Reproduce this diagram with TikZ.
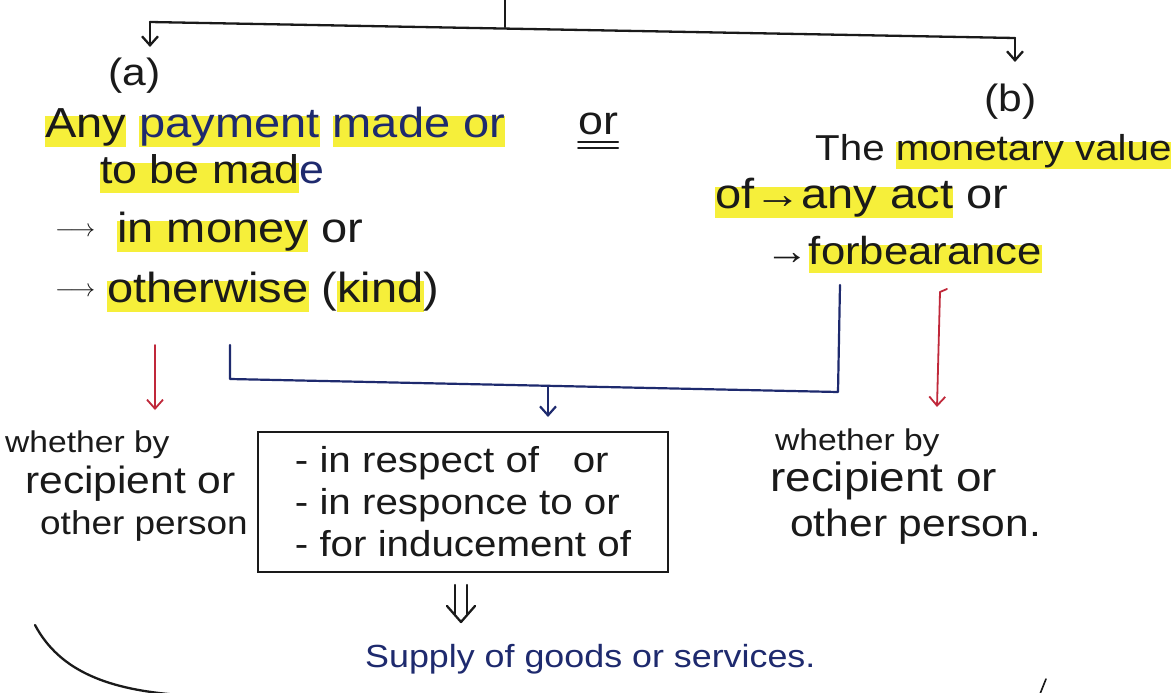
\documentclass[tikz,border=0pt]{standalone}
\usepackage{fontspec}
\setmainfont{Liberation Sans}[FakeStretch=1.12]
\usetikzlibrary{arrows.meta}
\definecolor{hl}{HTML}{F6EF3A}
\definecolor{ink}{HTML}{1A1A1A}
\definecolor{navy}{HTML}{1E2A6E}
\definecolor{redink}{HTML}{C0283A}
\newcommand\hl[1]{\setbox0\hbox{#1}\rlap{\textcolor{hl}{\rule[-0.24em]{\wd0}{0.74em}}}\box0\relax}
\newcommand\fs[1]{\fontsize{#1}{#1}\selectfont}
\newcommand\harrow{\raisebox{6pt}{\fs{34}$\longrightarrow$}}
\tikzset{
  txt/.style={anchor=base west, inner sep=0pt, text=ink, font=\fs{42}},
  wtxt/.style={anchor=base west, inner sep=0pt, text=ink, font=\fs{36}},
  blk/.style={draw=ink, line width=2.3pt, line cap=round},
  bln/.style={draw=navy, line width=2.2pt, line cap=round, line join=round},
  rdn/.style={draw=redink, line width=1.8pt, line cap=round},
  tip/.style={-{Straight Barb[length=9pt,width=16pt]}}
}
\begin{document}
\begin{tikzpicture}[x=1pt,y=-1pt]
\useasboundingbox (0,0) rectangle (1171,693);
\fill[white] (0,0) rectangle (1171,693);

% top bar
\coordinate (stemtop) at (505,0);
\coordinate (stem) at (505,27);
\coordinate (barL) at (150,22);
\coordinate (barR) at (1015,38);
\coordinate (aTip) at (150,47);
\coordinate (bTip) at (1015,62);
\draw[blk] (stemtop) -- (stem);
\draw[blk] (barL) -- (barR);
\draw[blk,tip] (barL) -- (aTip);
\draw[blk,tip] (barR) -- (bTip);

% (a) side
\node[txt, font=\fs{38}] (alab) at (108,86) {(a)};
\node[txt] (a1) at (45,137) {\hl{Any} \hl{\textcolor{navy}{payment}} \hl{\textcolor{navy}{made or}}};
\node[txt, font=\fs{40}] (a2) at (100,183) {\hl{to be mad}\textcolor{navy}{e}};
\node[txt] (a3) at (55,242) {\harrow\hspace{22pt}\hl{in money} or};
\node[txt] (a4) at (55,302) {\harrow\hspace{12pt}\hl{otherwise} (\hl{kind})};

% or
\node[txt, font=\fs{40}] (or) at (578,135) {or};
\draw[blk, line width=1.8pt] ([yshift=-7pt]or.base west) -- ([yshift=-7pt]or.base east);
\draw[blk, line width=1.8pt] ([yshift=-13pt]or.base west) -- ([yshift=-13pt]or.base east);

% (b) side
\node[txt, font=\fs{38}] (blab) at (984,112) {(b)};
\node[txt, font=\fs{36}] (b1) at (815,160) {The \hl{monetary value}};
\node[txt] (b2) at (715,208) {\hl{of→any act} or};
\node[txt, font=\fs{39}] (b3) at (765,264) {→\hl{forbearance}};

% blue connector
\coordinate (kL) at (230,345);
\coordinate (kLb) at (230,379);
\coordinate (kRb) at (838,392);
\coordinate (kR) at (840,285);
\coordinate (mid) at (548,386);
\coordinate (midTip) at (548,417);
\draw[bln] (kL) -- (kLb) -- (kRb) -- (kR);

% box
\node[draw=ink, line width=2.3pt, minimum width=410pt, minimum height=140pt,
      inner sep=0pt, align=left, text=ink,
      font=\fontsize{36}{42}\selectfont] (box) at (463,502)
  {- in respect of \ \ or\\- in responce to or\\- for inducement of};
\draw[bln,tip] (mid) -- (midTip);

% red arrows
\coordinate (rL1) at (155,345);
\coordinate (rL2) at (155,410);
\coordinate (rR1) at (940,292);
\coordinate (rR2) at (937,407);
\coordinate (rRt) at (947,289);
\draw[rdn,tip] (rL1) -- (rL2);
\draw[rdn,tip] (rR1) -- (rR2);
\draw[rdn] (rR1) -- (rRt);

% whether texts
\node[wtxt, font=\fs{30}] (wl1) at (5,452) {whether by};
\node[wtxt, font=\fs{38}] (wl2) at (25,493) {recipient or};
\node[wtxt, font=\fs{33}] (wl3) at (40,534) {other person};
\node[wtxt, font=\fs{30}] (wr1) at (775,450) {whether by};
\node[wtxt, font=\fs{41}] (wr2) at (770,491) {recipient or};
\node[wtxt, font=\fs{38}] (wr3) at (790,536) {other person.};

% double arrow
\coordinate (d1) at (455,585);
\coordinate (d2) at (467,585);
\coordinate (d1b) at (455,614);
\coordinate (d2b) at (467,614);
\coordinate (dh1) at (447,606);
\coordinate (dh) at (461,622);
\coordinate (dh2) at (475,606);
\draw[blk] (d1) -- (d1b);
\draw[blk] (d2) -- (d2b);
\draw[blk, line join=round] (dh1) -- (dh) -- (dh2);

\node[txt, text=navy, font=\fs{32}] (supply) at (365,667) {Supply of goods or services.};

% brace strokes
\coordinate (brL1) at (35,625);
\coordinate (brL2) at (180,695);
\draw[blk] (brL1) .. controls (60,672) and (110,690) .. (brL2);
\coordinate (brR1) at (1040,694);
\coordinate (brR2) at (1046,679);
\draw[blk, line width=1.6pt] (brR1) -- (brR2);
\end{tikzpicture}
\end{document}
